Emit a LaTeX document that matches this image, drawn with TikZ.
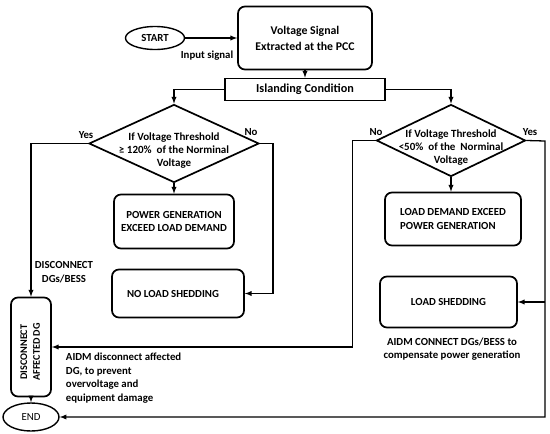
\documentclass[tikz,border=0pt]{standalone}
\usepackage{fontspec}
\setmainfont{Carlito}
\usetikzlibrary{positioning,shapes.geometric}

\begin{document}
\begin{tikzpicture}[x=1pt,y=-1pt,on grid,>=latex,line width=1.3pt,
    font=\fontsize{10.8}{13.5}\selectfont\bfseries,
    box/.style={draw,line width=1.7pt,rounded corners=7pt,align=center,inner sep=2pt},
    flag/.style={draw,line width=1.7pt,align=center,inner sep=2pt},
    term/.style={draw,ellipse,line width=1.4pt,inner sep=0pt,minimum width=59pt,minimum height=23pt},
    decision/.style={draw,diamond,line width=1.7pt,inner sep=0pt},
    dtext/.style={align=center,yshift=-7pt,font=\fontsize{11}{13.3}\selectfont\bfseries}]
    \useasboundingbox (0,0) rectangle (550,434);

    \node[term] (start) at (155,38) {START};
    \node[box, minimum width=134pt, minimum height=63pt, font=\fontsize{11.8}{14}\selectfont\bfseries]
        [right=150pt of start] (volt) {Voltage Signal\\[2pt]Extracted at the PCC};
    \node[flag, minimum width=160pt, minimum height=22pt, font=\fontsize{12.2}{14}\selectfont\bfseries]
        [below=51.5pt of volt] (island) {Islanding Condition};
    \node[decision, minimum width=170pt, minimum height=78pt,
        label={[dtext]center:{If Voltage Threshold\\≥ 120\%\ \ of the Norminal\\Voltage}}]
        [below left=54pt and 131pt of island] (dl) {};
    \node[decision, minimum width=149pt, minimum height=72pt,
        label={[dtext]center:{If Voltage Threshold\\<50\%\ \ of the\ \ Norminal\\Voltage}}]
        [below right=51pt and 146pt of island] (dr) {};
    \node[box, minimum width=120pt, minimum height=54pt] [below=78pt of dl] (pg) {POWER GENERATION\\EXCEED LOAD DEMAND};
    \node[box, minimum width=132pt, minimum height=48pt] [below right=72pt and 4pt of pg] (nls) {NO LOAD SHEDDING\hspace{10pt}};
    \node[box, align=left, minimum width=136pt, minimum height=53pt] [below right=78.5pt and 2pt of dr] (ld) {LOAD DEMAND EXCEED\\POWER GENERATION};
    \node[box, minimum width=137pt, minimum height=51pt] [below left=83pt and 4.5pt of ld] (ls) {LOAD SHEDDING};
    \node[box, minimum width=40pt, minimum height=99pt, font=\fontsize{10.2}{12.5}\selectfont\bfseries] (dis) at (31,347)
        {\rotatebox{90}{\begin{tabular}{@{}c@{}}DISCONNECT\\AFFECTED DG\end{tabular}\hspace{10pt}}};
    \node[term, minimum width=56pt, minimum height=28pt, font=\fontsize{10.8}{12}\selectfont] [below=70pt of dis] (end) {END};
    \coordinate (rr) at (545,141);

    % labels
    \node (insig) at (207,56) {Input signal};
    \node (yesl) at (86,135) {Yes};
    \node (nol) at (251,132) {No};
    \node (nor) at (376,132) {No};
    \node (yesr) at (530,132) {Yes};
    \node[align=center] (disc) at (64,272) {DISCONNECT\\DGs/BESS};
    \node[align=left, anchor=west] (aidmoff) at (62,378) {AIDM disconnect affected\\DG, to prevent\\overvoltage and\\equipment damage};
    \node[align=center] (aidmon) at (452,349) {AIDM CONNECT DGs/BESS to\\compensate power generation};

    \path[->]
    (start) edge (volt)
    (volt.south) edge (volt.south |- island.north)
    (dl) edge (pg)
    (dr.south) edge (dr.south |- ld.north)
    (dis) edge (end)
    ;
    \draw[->] (island.west) -| (dl.north);
    \draw[->] (island.east) -| (dr.north);
    \draw[->] (dl.west) -| (dis.north);
    \draw[->] (dl.east) -- ++(13pt,0) |- (nls.east);
    \draw[->] (dr.west) -- ++(-23pt,0) |- (dis.east);
    \draw[->] (dr.east) -- (rr) |- (end.east);
    \draw[->] (rr |- ls.east) -- (ls.east);
\end{tikzpicture}
\end{document}
